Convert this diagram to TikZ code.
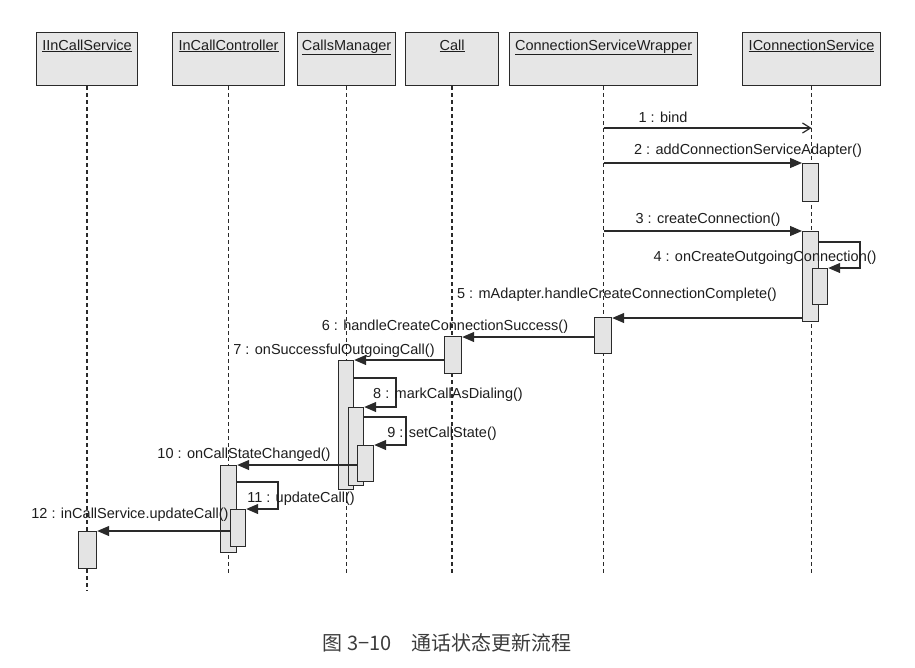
\documentclass[tikz,border=0pt]{standalone}
\usepackage{fontspec}
\setmainfont{Liberation Sans}
\newfontfamily\cjk{Noto Sans CJK SC}
\usetikzlibrary{arrows.meta}
\definecolor{ink}{HTML}{2A2A2A}
\definecolor{txt}{HTML}{1E1E1E}
\definecolor{captxt}{HTML}{3C3C3C}
\definecolor{boxfill}{HTML}{E6E6E6}
\definecolor{actfill}{HTML}{E4E4E4}
\begin{document}
\begin{tikzpicture}[x=1pt,y=-1pt,
  objbox/.style={draw=ink, fill=boxfill, line width=1.2pt, minimum height=53pt,
    minimum width=#1, inner sep=0pt, anchor=north west},
  objname/.style={font=\fontsize{14.5}{16}\selectfont, text=txt, anchor=base, inner sep=0pt},
  life/.style={draw=ink, line width=1.5pt, dash pattern=on 4pt off 3pt},
  act/.style={draw=ink, fill=actfill, line width=1.2pt, minimum width=#1, inner sep=0pt, anchor=north west},
  msg/.style={draw=ink, line width=1.2pt, -{Triangle[length=12pt,width=10pt]}},
  opnmsg/.style={draw=ink, line width=1.2pt, -{Straight Barb[length=8pt,width=10pt,line width=1.2pt]}},
  lbl/.style={font=\fontsize{14.5}{16}\selectfont, text=txt, anchor=base, inner sep=0pt},
]
\useasboundingbox[fill=white] (0,0) rectangle (915,667);

% participants
\node[objbox=101pt] (iics) at (36,32) {};
\node[objbox=112pt] (icc)  at (172,32) {};
\node[objbox=98pt]  (cm)   at (297,32) {};
\node[objbox=93pt]  (call) at (405,32) {};
\node[objbox=188pt] (csw)  at (509,32) {};
\node[objbox=138pt] (ics)  at (742,32) {};

\node[objname] (n-iics) at ([yshift=-18pt]iics.north) {\underline{IInCallService}};
\node[objname] (n-icc)  at ([yshift=-18pt]icc.north)  {\underline{InCallController}};
\node[objname] (n-cm)   at ([yshift=-18pt]cm.north)   {\underline{CallsManager}};
\node[objname] (n-call) at ([yshift=-18pt]call.north) {\underline{Call}};
\node[objname] (n-csw)  at ([yshift=-18pt]csw.north)  {\underline{ConnectionServiceWrapper}};
\node[objname] (n-ics)  at ([yshift=-18pt]ics.north)  {\underline{IConnectionService}};

% lifeline ends
\coordinate (lend)  at (0,575);
\coordinate (lend2) at (0,591);
\draw[life] (iics.south) -- (iics.south |- lend2);
\draw[life] (icc.south)  -- (icc.south |- lend);
\draw[life] (cm.south)   -- (cm.south |- lend);
\draw[life] (call.south) -- (call.south |- lend);
\draw[life] (csw.south)  -- (csw.south |- lend);
\draw[life] (ics.south)  -- (ics.south |- lend);

% activations
\node[act=16pt, minimum height=38pt]  (a2)  at (802,163) {};
\node[act=16pt, minimum height=90pt]  (a3)  at (802,231) {};
\node[act=15pt, minimum height=36pt]  (a4)  at (812,268) {};
\node[act=17pt, minimum height=36pt]  (a5)  at (594,317) {};
\node[act=17pt, minimum height=37pt]  (a6)  at (444,336) {};
\node[act=15pt, minimum height=129pt] (a7)  at (338,360) {};
\node[act=15pt, minimum height=78pt]  (a8)  at (348,407) {};
\node[act=16pt, minimum height=36pt]  (a9)  at (357,445) {};
\node[act=16pt, minimum height=87pt]  (a10) at (220,465) {};
\node[act=15pt, minimum height=37pt]  (a11) at (230,509) {};
\node[act=18pt, minimum height=37pt]  (a12) at (78,531) {};

% message routing points
\coordinate (m1)  at (0,128);
\coordinate (l4)  at (860,242);
\coordinate (l8)  at (396,378);
\coordinate (l9)  at (406,417);
\coordinate (l11) at (278,482);

% messages
\draw[opnmsg] (csw.south |- m1) -- (ics.south |- m1);
\draw[msg] (csw.south |- a2.north) -- (a2.north west);
\draw[msg] (csw.south |- a3.north) -- (a3.north west);
\draw[msg] (a3.east |- l4) -- (l4) -- (l4 |- a4.north) -- (a4.north east);
\draw[msg] ([yshift=-1pt]a3.west |- a5.north) -- ([yshift=-1pt]a5.north east);
\draw[msg] ([yshift=-1pt]a5.west |- a6.north) -- ([yshift=-1pt]a6.north east);
\draw[msg] (a6.west |- a7.north) -- (a7.north east);
\draw[msg] (a7.east |- l8) -- (l8) -- (l8 |- a8.north) -- (a8.north east);
\draw[msg] (a8.east |- l9) -- (l9) -- (l9 |- a9.north) -- (a9.north east);
\draw[msg] (a9.west |- a10.north) -- (a10.north east);
\draw[msg] (a10.east |- l11) -- (l11) -- (l11 |- a11.north) -- (a11.north east);
\draw[msg] (a11.west |- a12.north) -- (a12.north east);

% message labels
\node[lbl] (t1)  at (663,122) {1 : bind};
\node[lbl] (t2)  at (748,154) {2 : addConnectionServiceAdapter()};
\node[lbl] (t3)  at (708,223) {3 : createConnection()};
\node[lbl] (t4)  at (765,261) {4 : onCreateOutgoingConnection()};
\node[lbl] (t5)  at (617,298) {5 : mAdapter.handleCreateConnectionComplete()};
\node[lbl] (t6)  at (445,330) {6 : handleCreateConnectionSuccess()};
\node[lbl] (t7)  at (334,354) {7 : onSuccessfulOutgoingCall()};
\node[lbl] (t8)  at (448,398) {8 : markCallAsDialing()};
\node[lbl] (t9)  at (442,437) {9 : setCallState()};
\node[lbl] (t10) at (244,458) {10 : onCallStateChanged()};
\node[lbl] (t11) at (301,502) {11 : updateCall()};
\node[lbl] (t12) at (130,518) {12 : inCallService.updateCall()};

% caption
\node[font=\cjk\fontsize{20}{24}\selectfont, text=captxt, inner sep=0pt] (cap) at (447,643)
  {图 3−10\hspace{1em}通话状态更新流程};
\end{tikzpicture}
\end{document}
